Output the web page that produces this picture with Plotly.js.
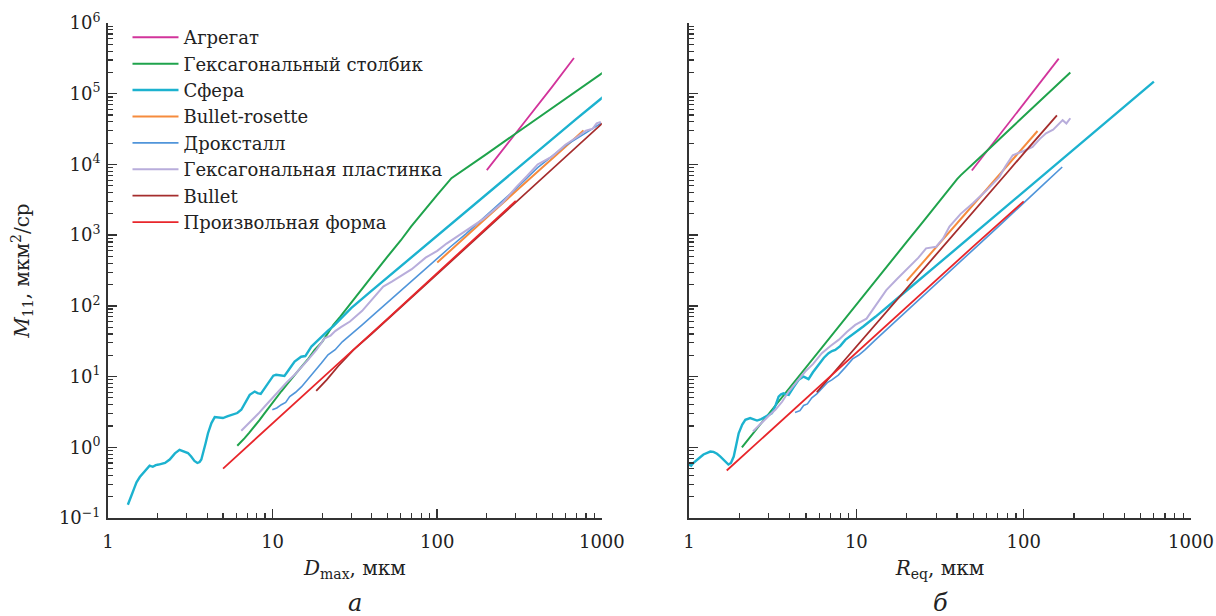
<!DOCTYPE html>
<html>
<head>
<meta charset="utf-8">
<script src="https://cdn.plot.ly/plotly-3.0.1.min.js"></script>
<style>html,body{margin:0;padding:0;background:#fff}#chart{width:1216px;height:616px}</style>
</head>
<body>
<div id="chart"></div>
<script>
// ---------- series names (legend order) ----------
const seriesNames = ['Агрегат', 'Гексагональный столбик', 'Сфера', 'Bullet-rosette',
  'Дроксталл', 'Гексагональная пластинка', 'Bullet', 'Произвольная форма'];

// ---------- panel а : M11 vs Dmax (мкм) ----------
const aggD_x = [200, 250, 350, 500, 677];
const aggD_y = [8300, 16100, 42300, 126000, 320000];

const colD_x = [6.1, 6.4, 6.76, 7.2, 7.78, 8.3, 8.95, 9.6, 10.3, 11.3, 12.4, 13.7, 15, 16.5, 18, 20, 21.7, 23.4, 25.7, 30, 35, 42, 50, 60, 69.5, 80, 100, 122, 150, 200, 300, 400, 600, 800, 1030];
const colD_y = [1.05, 1.2, 1.35, 1.6, 1.97, 2.4, 3.04, 3.8, 4.68, 6.2, 8.07, 10.5, 13.8, 18, 23.8, 31, 41, 54, 70, 112, 175, 300, 500, 840, 1330, 2000, 3700, 6400, 8850, 14100, 27400, 43700, 84700, 135000, 204000];

const sphD_x = [1.32, 1.36, 1.39, 1.44, 1.49, 1.56, 1.63, 1.71, 1.79, 1.87, 1.95, 2.03, 2.11, 2.22, 2.37, 2.55, 2.72, 2.9, 3.06, 3.2, 3.35, 3.49, 3.6, 3.69, 3.8, 3.92, 4.05, 4.25, 4.45, 4.7, 4.99, 5.35, 5.74, 6.1, 6.45, 6.85, 7.26, 7.78, 8.1, 8.47, 9.0, 9.6, 10.1, 10.5, 11.1, 11.8, 12.7, 13.6, 14.9, 15.8, 17.2, 18.9, 20.3, 21.7, 23.5, 25, 30, 40, 60, 100, 200, 400, 700, 1000, 1260];
const sphD_y = [0.154, 0.19, 0.21, 0.26, 0.32, 0.38, 0.43, 0.5, 0.55, 0.53, 0.56, 0.57, 0.58, 0.6, 0.67, 0.82, 0.92, 0.88, 0.83, 0.74, 0.64, 0.6, 0.62, 0.67, 0.85, 1.15, 1.58, 2.2, 2.67, 2.62, 2.59, 2.75, 2.88, 3.05, 3.39, 4.4, 5.52, 6.14, 5.85, 5.7, 7.0, 8.98, 10.3, 10.6, 10.4, 10.2, 13, 16.3, 19.1, 19.5, 26.5, 33, 38, 44.7, 52, 60, 93, 164, 363, 985, 3800, 14700, 44000, 87000, 138000];

const rosD_x = [100, 150, 200, 300, 400, 500, 650, 773];
const rosD_y = [410, 950, 1770, 4170, 7520, 12000, 21000, 30300];

const drxD_x = [9.96, 10.6, 11.3, 12, 12.7, 13.8, 15, 16.3, 18, 19.8, 21.7, 24, 26.5, 29.5, 35, 40, 50, 60, 80, 100, 120, 150, 200, 250, 300, 407, 500, 600, 800, 986];
const drxD_y = [3.39, 3.6, 4.0, 4.3, 5.2, 6.0, 7.2, 9.0, 11.8, 15.5, 20.3, 24, 31, 38, 54, 71, 113, 164, 298, 470, 680, 1050, 1900, 3000, 4500, 9000, 13000, 18500, 28000, 38000];

const plaD_x = [6.45, 6.9, 7.43, 8.2, 8.95, 9.8, 10.8, 12.2, 13.6, 15, 16.4, 18.5, 20.7, 22.5, 24, 26, 29.5, 35, 40, 47, 53, 59, 70, 85, 100, 114, 140, 191, 250, 300, 350, 407, 500, 600, 700, 800, 880, 930, 986];
const plaD_y = [1.71, 2.0, 2.31, 3.0, 3.77, 4.8, 6.14, 8.3, 10.6, 13.5, 17.2, 24, 34.8, 38, 44, 50, 60, 85, 120, 187, 220, 257, 330, 480, 600, 760, 1050, 1700, 2900, 4700, 6800, 10000, 13000, 19000, 24000, 30000, 32000, 38000, 40000];

const bulD_x = [18.4, 21.3, 25, 31, 40, 60, 100, 200, 300, 500, 700, 1000, 1150];
const bulD_y = [6.3, 9, 14, 23.8, 40.3, 95, 286, 1240, 2930, 8660, 17600, 37600, 50600];

const arbD_x = [5, 10, 21.7, 50, 100, 200, 300];
const arbD_y = [0.5, 2.2, 11.3, 66, 290, 1270, 3050];

// ---------- panel б : M11 vs Req (мкм) ----------
const aggR_x = [49, 70, 100, 130, 162];
const aggR_y = [8200, 24400, 72000, 161000, 313000];

const colR_x = [2.07, 2.25, 2.49, 2.8, 3, 3.5, 4, 5, 6, 7, 8, 10, 13, 16, 20, 25, 30, 35, 40, 42, 46, 50, 60, 80, 100, 113, 150, 190];
const colR_y = [1.0, 1.28, 1.72, 2.44, 2.99, 4.71, 6.98, 13.5, 23.1, 36.4, 54.3, 104, 226, 417, 803, 1540, 2660, 4200, 6200, 7000, 8500, 10300, 15400, 29300, 48000, 63000, 118000, 200000];

const sphR_x = [1.0, 1.03, 1.06, 1.1, 1.14, 1.18, 1.22, 1.28, 1.34, 1.4, 1.47, 1.54, 1.61, 1.67, 1.72, 1.78, 1.85, 1.91, 1.98, 2.08, 2.17, 2.32, 2.45, 2.55, 2.7, 2.86, 3.0, 3.13, 3.3, 3.43, 3.55, 3.67, 3.8, 3.94, 4.2, 4.52, 4.84, 5.0, 5.18, 5.5, 5.94, 6.4, 6.82, 7.15, 7.48, 8.0, 8.59, 9.3, 10, 11, 13, 17, 20, 30, 50, 100, 200, 400, 600];
const sphR_y = [0.57, 0.55, 0.6, 0.64, 0.7, 0.74, 0.79, 0.84, 0.87, 0.86, 0.81, 0.74, 0.67, 0.6, 0.57, 0.6, 0.74, 1.05, 1.58, 2.1, 2.45, 2.59, 2.45, 2.39, 2.5, 2.72, 2.85, 3.04, 4.0, 5.2, 5.6, 5.8, 5.6, 5.5, 7, 9, 10, 9.7, 9.2, 11.5, 14.6, 18.5, 21.4, 23, 23.8, 27, 33, 38, 42, 51, 70, 118, 165, 370, 1030, 4100, 16500, 66000, 148000];

const rosR_x = [20, 22.8, 30, 40, 60, 80, 100, 121];
const rosR_y = [225, 321, 676, 1470, 4430, 9660, 17660, 29700];

const drxR_x = [4.3, 4.6, 4.84, 5.1, 5.42, 5.8, 6.22, 6.7, 7.14, 7.8, 8.59, 9.5, 10.3, 11.3, 13, 15.6, 18, 20.5, 25, 30, 40, 50, 70, 100, 130, 170];
const drxR_y = [3.1, 3.3, 3.9, 4.1, 5.0, 5.7, 6.8, 8.2, 9.0, 10.5, 13.5, 17.8, 20, 24, 33, 49, 66, 88, 137, 205, 385, 625, 1300, 2900, 5100, 9200];

const plaR_x = [2.41, 2.7, 3.0, 3.28, 3.6, 3.94, 4.4, 4.95, 5.5, 6.22, 7.0, 7.83, 8.8, 9.85, 11.5, 13, 15.1, 17.5, 20.8, 23.5, 26.1, 28, 30, 33, 36, 42, 49.7, 60, 71.6, 78, 86, 100, 113, 125, 136, 150, 160, 171, 180, 190];
const plaR_y = [1.67, 2.2, 2.8, 3.39, 4.4, 6.14, 8.5, 11.8, 15, 21.4, 27, 33, 43, 53.7, 66, 100, 167, 240, 358, 480, 651, 670, 686, 900, 1320, 2000, 2820, 4300, 6680, 9500, 13500, 15500, 17700, 23000, 27500, 31000, 36000, 42300, 38000, 45000];

const bulR_x = [5.8, 7, 8, 10, 15, 20, 30, 50, 80, 100, 130, 158];
const bulR_y = [6, 10, 14.4, 26.5, 80, 176, 533, 2155, 7750, 14340, 29200, 49400];

const arbR_x = [1.68, 3, 5, 10, 20, 50, 100];
const arbR_y = [0.47, 1.64, 4.9, 21.8, 96, 693, 3000];

// ---------- axis ticks ----------
const xTickVals = [1, 10, 100, 1000];
const xTickText = ['1', '10', '100', '1000'];
const yTickVals = [0.1, 1, 10, 100, 1000, 10000, 100000, 1000000];
const yTickText = ['10<sup>−1</sup>', '10<sup>0</sup>', '10<sup>1</sup>', '10<sup>2</sup>', '10<sup>3</sup>', '10<sup>4</sup>', '10<sup>5</sup>', '10<sup>6</sup>'];

// ---------- build traces ----------
const panelA = [[aggD_x, aggD_y], [colD_x, colD_y], [sphD_x, sphD_y], [rosD_x, rosD_y],
                [drxD_x, drxD_y], [plaD_x, plaD_y], [bulD_x, bulD_y], [arbD_x, arbD_y]];
const panelB = [[aggR_x, aggR_y], [colR_x, colR_y], [sphR_x, sphR_y], [rosR_x, rosR_y],
                [drxR_x, drxR_y], [plaR_x, plaR_y], [bulR_x, bulR_y], [arbR_x, arbR_y]];

const lineColors = ['#d2349b', '#1fa34c', '#1cb2cf', '#f68b3d', '#5095da', '#b8addb', '#a52d2d', '#e8262b'];
const lineWidths = [1.8, 2, 2.4, 2, 1.6, 2, 1.8, 1.8];

const traces = [];
panelA.forEach((d, i) => {
  traces.push({x: d[0], y: d[1], type: 'scatter', mode: 'lines', name: seriesNames[i],
    legendgroup: 'g' + i, xaxis: 'x', yaxis: 'y',
    line: {color: lineColors[i], width: lineWidths[i]}});
});
panelB.forEach((d, i) => {
  traces.push({x: d[0], y: d[1], type: 'scatter', mode: 'lines', name: seriesNames[i],
    legendgroup: 'g' + i, showlegend: false, xaxis: 'x2', yaxis: 'y2',
    line: {color: lineColors[i], width: lineWidths[i]}});
});

const FONT = 'DejaVu Serif, Liberation Serif, serif';
const axisCommon = {
  type: 'log', showgrid: false, zeroline: false, showline: true,
  linecolor: '#333', linewidth: 2, ticks: 'inside', ticklen: 9, tickwidth: 1.5, tickcolor: '#333',
  tickfont: {family: FONT, size: 18, color: '#222'},
  minor: {ticks: 'inside', ticklen: 5, tickwidth: 1.2, tickcolor: '#333', dtick: 'D1', showgrid: false}
};
const xCommon = Object.assign({}, axisCommon, {range: [0, 3], tickmode: 'array', tickvals: xTickVals, ticktext: xTickText, ticklabelstandoff: 6});
const yCommon = Object.assign({}, axisCommon, {range: [-1, 6], tickmode: 'array', tickvals: yTickVals, ticktext: yTickText, ticklabelstandoff: 2});

const layout = {
  width: 1216, height: 616,
  margin: {l: 108, r: 25, t: 23, b: 98},
  paper_bgcolor: '#fff', plot_bgcolor: '#fff',
  font: {family: FONT, color: '#222'},
  showlegend: true,
  legend: {x: 0.018, y: 1.008, xanchor: 'left', yanchor: 'top', bgcolor: 'rgba(0,0,0,0)',
           font: {family: FONT, size: 18, color: '#222'}, itemwidth: 46, tracegroupgap: 0},
  xaxis: Object.assign({}, xCommon, {domain: [0, 0.456], anchor: 'y',
    title: {text: '<i>D</i><sub>max</sub>, мкм', font: {family: FONT, size: 20, color: '#222'}, standoff: 10}}),
  yaxis: Object.assign({}, yCommon, {anchor: 'x',
    title: {text: '<i>M</i><sub>11</sub>, мкм<sup>2</sup>/ср', font: {family: FONT, size: 20, color: '#222'}, standoff: 24}}),
  xaxis2: Object.assign({}, xCommon, {domain: [0.5365, 1], anchor: 'y2',
    title: {text: '<i>R</i><sub>eq</sub>, мкм', font: {family: FONT, size: 20, color: '#222'}, standoff: 10}}),
  yaxis2: Object.assign({}, yCommon, {anchor: 'x2', showticklabels: false}),
  annotations: [
    {text: '<i>а</i>', xref: 'x domain', yref: 'paper', x: 0.5, y: -0.171, showarrow: false,
     xanchor: 'center', yanchor: 'middle', font: {family: FONT, size: 24, color: '#222'}},
    {text: '<i>б</i>', xref: 'x2 domain', yref: 'paper', x: 0.5, y: -0.171, showarrow: false,
     xanchor: 'center', yanchor: 'middle', font: {family: FONT, size: 24, color: '#222'}}
  ]
};

Plotly.newPlot('chart', traces, layout, {displayModeBar: false, staticPlot: true});
</script>
</body>
</html>
